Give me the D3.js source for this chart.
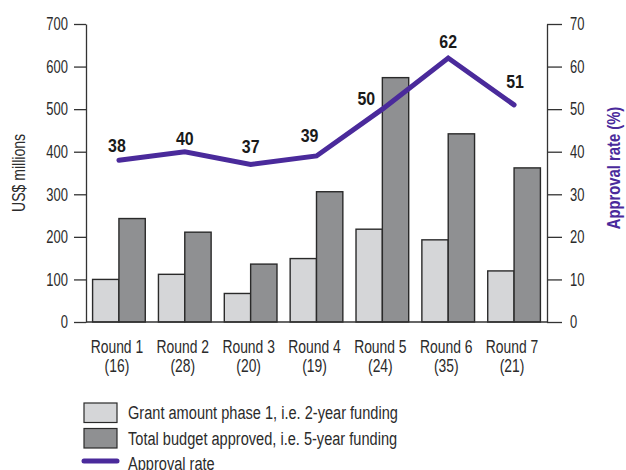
<!DOCTYPE html>
<html>
<head>
<meta charset="utf-8">
<script src="https://cdn.jsdelivr.net/npm/d3@7"></script>
<style>
  body { margin: 0; background: #fff; }
  svg { display: block; font-family: "Liberation Sans", Arial, sans-serif; }
</style>
</head>
<body>
<svg id="chart" width="626" height="470"></svg>
<script>
// Funding rounds (number of approved grants in brackets)
const rounds = ["Round 1", "Round 2", "Round 3", "Round 4", "Round 5", "Round 6", "Round 7"];
const grantCounts = [16, 28, 20, 19, 24, 35, 21];
// US$ millions
const phase1Amounts = [100, 112, 67, 149, 218, 193, 120];
const totalBudgets = [243, 211, 136, 306, 574, 442, 362];
// Approval rate, %
const approvalRates = [38, 40, 37, 39, 50, 62, 51];
const leftTicks = [0, 100, 200, 300, 400, 500, 600, 700];
const rightTicks = [0, 10, 20, 30, 40, 50, 60, 70];

const purple = "#4a2a9b";
const lightFill = "#d5d6d8";
const darkFill = "#8f9092";
const legendItems = [
  { label: "Grant amount phase 1, i.e. 2-year funding", type: "box", fill: lightFill },
  { label: "Total budget approved, i.e. 5-year funding", type: "box", fill: darkFill },
  { label: "Approval rate", type: "line", fill: purple }
];

const svg = d3.select("#chart");
const m = { left: 86, right: 547, top: 24, bottom: 322 };
const axisColor = "#333";
const textColor = "#2b2b2b";

// Squeeze glyphs horizontally to get a condensed face
function condense(sel, f) {
  sel.each(function () {
    const w = this.getComputedTextLength();
    this.setAttribute("textLength", (w * f).toFixed(2));
    this.setAttribute("lengthAdjust", "spacingAndGlyphs");
  });
}

const x = d3.scaleBand().domain(rounds).range([m.left, m.right]).paddingInner(0.2).paddingOuter(0.1);
const xs = d3.scaleBand().domain(["phase1", "total"]).range([0, x.bandwidth()]);
const yL = d3.scaleLinear().domain([0, 700]).range([m.bottom, m.top]);
const yR = d3.scaleLinear().domain([0, 70]).range([m.bottom, m.top]);

// Bars
const groups = svg.append("g").selectAll("g").data(rounds).join("g")
  .attr("transform", d => `translate(${x(d)},0)`);
groups.append("rect")
  .attr("x", xs("phase1")).attr("width", xs.bandwidth())
  .attr("y", (d, i) => yL(phase1Amounts[i]))
  .attr("height", (d, i) => yL(0) - yL(phase1Amounts[i]))
  .attr("fill", lightFill).attr("stroke", "#2a2a2a").attr("stroke-width", 1.4);
groups.append("rect")
  .attr("x", xs("total")).attr("width", xs.bandwidth())
  .attr("y", (d, i) => yL(totalBudgets[i]))
  .attr("height", (d, i) => yL(0) - yL(totalBudgets[i]))
  .attr("fill", darkFill).attr("stroke", "#2a2a2a").attr("stroke-width", 1.4);

// Axes
const styleAxis = g => {
  g.select(".domain").attr("stroke", axisColor).attr("stroke-width", 1.3);
  g.selectAll(".tick line").attr("stroke", axisColor).attr("stroke-width", 1.3);
  g.selectAll(".tick text").attr("fill", textColor).attr("font-size", 18);
  condense(g.selectAll(".tick text"), 0.72);
};
svg.append("g").attr("transform", `translate(${m.left},0)`)
  .call(d3.axisLeft(yL).tickValues(leftTicks).tickSize(12).tickSizeOuter(0).tickPadding(6))
  .call(styleAxis);
svg.append("g").attr("transform", `translate(${m.right},0)`)
  .call(d3.axisRight(yR).tickValues(rightTicks).tickSize(15).tickSizeOuter(0).tickPadding(8))
  .call(styleAxis);
svg.append("line")
  .attr("x1", m.left).attr("x2", m.right).attr("y1", m.bottom).attr("y2", m.bottom)
  .attr("stroke", axisColor).attr("stroke-width", 1.3);

// Category labels
const cx = d => x(d) + x.bandwidth() / 2;
const xl = svg.append("g").selectAll("text").data(rounds).join("text")
  .attr("text-anchor", "middle").attr("font-size", 19).attr("fill", textColor);
xl.append("tspan").attr("x", d => cx(d) - 2).attr("y", 353).text(d => d);
xl.append("tspan").attr("x", d => cx(d) - 2).attr("y", 372).text((d, i) => `(${grantCounts[i]})`);
condense(xl.selectAll("tspan"), 0.73);

// Axis titles
const tl = svg.append("text").attr("transform", `translate(25,${(m.top + m.bottom) / 2}) rotate(-90)`)
  .attr("text-anchor", "middle").attr("font-size", 18).attr("fill", textColor).text("US$ millions");
condense(tl, 0.78);
const tr = svg.append("text").attr("transform", `translate(620,168) rotate(-90)`)
  .attr("text-anchor", "middle").attr("font-size", 18.5).attr("font-weight", "bold")
  .attr("fill", purple).text("Approval rate (%)");
condense(tr, 0.8);

// Approval rate line
const line = d3.line().x(d => cx(d)).y((d, i) => yR(approvalRates[i]));
svg.append("path").datum(rounds).attr("d", line)
  .attr("fill", "none").attr("stroke", purple).attr("stroke-width", 5)
  .attr("stroke-linejoin", "miter").attr("stroke-linecap", "round");

// Rate labels (nudged so they clear the rising segment)
const labelDx = [-2, 0, 0, -7, -16, 0, 1];
const labelDy = [-8.5, -7, -11, -14, -4, -10, -17];
const rl = svg.append("g").selectAll("text").data(rounds).join("text")
  .attr("text-anchor", "middle").attr("font-size", 18.5).attr("font-weight", "bold").attr("fill", "#1a1a1a")
  .attr("x", (d, i) => cx(d) + labelDx[i])
  .attr("y", (d, i) => yR(approvalRates[i]) + labelDy[i])
  .text((d, i) => approvalRates[i]);
condense(rl, 0.86);

// Legend
const lg = svg.append("g").selectAll("g").data(legendItems).join("g")
  .attr("transform", (d, i) => `translate(84,${403 + i * 25.5})`);
lg.filter(d => d.type === "box").append("rect")
  .attr("width", 33).attr("height", 19.5).attr("fill", d => d.fill)
  .attr("stroke", "#2a2a2a").attr("stroke-width", 1.2);
lg.filter(d => d.type === "line").append("line")
  .attr("x1", 0).attr("x2", 33).attr("y1", 7).attr("y2", 7)
  .attr("stroke", d => d.fill).attr("stroke-width", 5).attr("stroke-linecap", "round");
const lt = lg.append("text").attr("x", 44).attr("y", 16).attr("font-size", 18).attr("fill", textColor).text(d => d.label);
condense(lt, 0.81);
</script>
</body>
</html>
